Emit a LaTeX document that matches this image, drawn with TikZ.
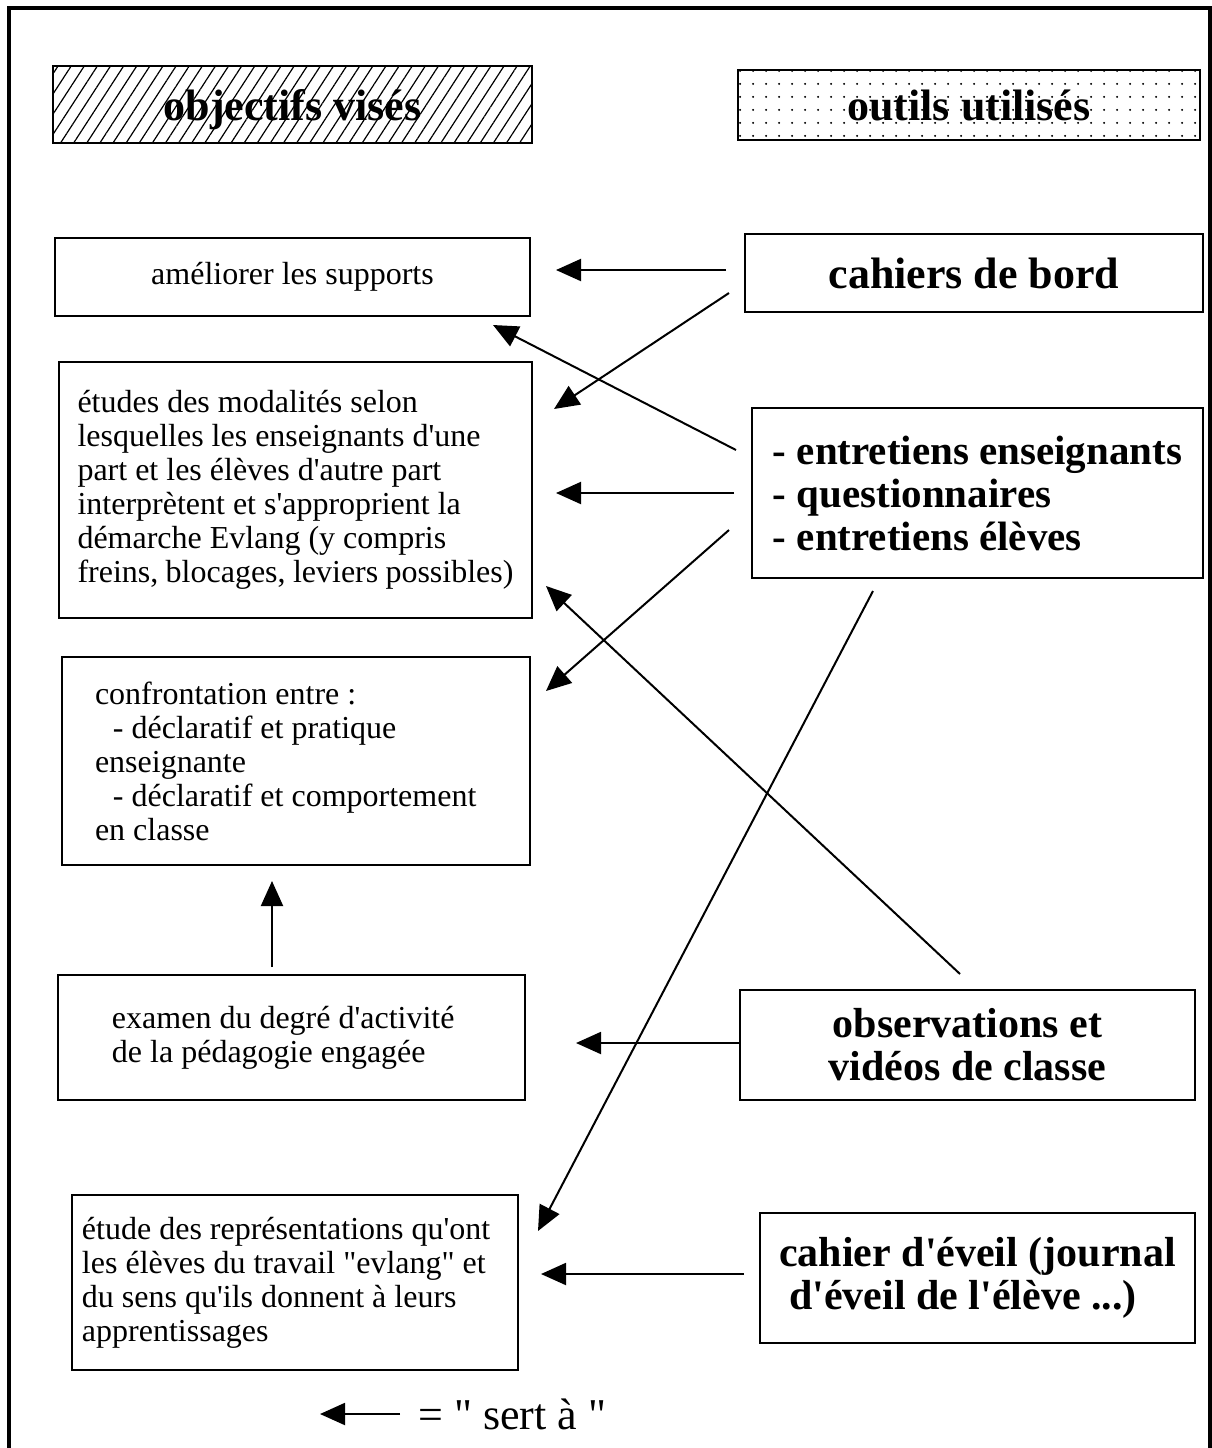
\documentclass[tikz,border=0pt]{standalone}
\usepackage{fontspec}
\setmainfont{Liberation Serif}[Ligatures=TeXOff]
\usepackage{tikz}
\usetikzlibrary{arrows.meta, patterns.meta}

\tikzset{
  cadre/.style={draw, line width=1pt, inner sep=0pt},
  objectif/.style={cadre, align=flush left, font=\fontsize{16}{17}\selectfont},
  outil/.style={cadre, align=left, font=\fontsize{21}{21.5}\selectfont\bfseries},
  titre/.style={cadre, font=\fontsize{22}{24}\selectfont\bfseries},
  sert/.style={-{Triangle[length=12.5pt,width=11pt]}, line width=1pt}
}

\begin{document}
\begin{tikzpicture}[x=0.5pt, y=-0.5pt]
  \useasboundingbox (0,0) rectangle (1212,1448);
  \draw[line width=2pt] (9,1448) -- (9,7.5) -- (1210,7.5) -- (1210,1448);

  % titres
  \node[titre, minimum width=239.5pt, minimum height=38.5pt, text depth=0pt,
        pattern={Lines[angle=57,distance=5.5pt,line width=0.6pt]}] (objectifs) at (292.5,104.5) {objectifs visés};
  \node[titre, minimum width=231pt, minimum height=35pt,
        pattern={Dots[distance=6.5pt,radius=0.6pt]}] (outils) at (969,105) {outils utilisés};

  % objectifs
  \node[objectif, minimum width=237.5pt, minimum height=39pt, align=center] (supports) at (292.5,277) {améliorer les supports};
  \node[objectif, minimum width=236.5pt, minimum height=128pt, text width=218pt] (modalites) at (295.5,490)
    {études des modalités selon\\lesquelles les enseignants d'une\\part et les élèves d'autre part\\interprètent et s'approprient la\\démarche Evlang (y compris\\freins, blocages, leviers possibles)};
  \node[objectif, minimum width=234pt, minimum height=104pt, text width=201pt, inner xsep=16.5pt] (confrontation) at (296,761)
    {confrontation entre :\\\hspace*{9pt}- déclaratif et pratique\\enseignante\\\hspace*{9pt}- déclaratif et comportement\\en classe};
  \node[objectif, minimum width=233.5pt, minimum height=62.5pt, text width=179.5pt, inner xsep=27pt] (activite) at (291.5,1037.5)
    {examen du degré d'activité\\de la pédagogie engagée};
  \node[objectif, minimum width=223pt, minimum height=87.5pt, text width=213pt, inner xsep=5pt] (representations) at (295,1282.5)
    {étude des représentations qu'ont\\les élèves du travail "evlang" et\\du sens qu'ils donnent à leurs\\apprentissages};

  % outils
  \node[outil, minimum width=229pt, minimum height=39pt, align=center, font=\fontsize{22}{24}\selectfont\bfseries] (cahiers) at (974,273) {cahiers de bord};
  \node[outil, minimum width=225.5pt, minimum height=85pt, font=\fontsize{20.5}{21.5}\selectfont\bfseries] (entretiens) at (977.5,493)
    {- entretiens enseignants\\- questionnaires\\- entretiens élèves};
  \node[outil, minimum width=227.5pt, minimum height=55pt, align=center] (observations) at (967.5,1045)
    {observations et\\vidéos de classe};
  \node[outil, minimum width=217.5pt, minimum height=65pt] (eveil) at (977.5,1278)
    {cahier d'éveil (journal\\\hspace*{5pt}d'éveil de l'élève ...)};

  % fleches
  \draw[sert] ([shift={(-18,-3)}]cahiers.west) -- ([shift={(25,-7)}]supports.east);
  \draw[sert] ([shift={(-15,20)}]cahiers.west) -- ([shift={(21,48)}]modalites.north east);
  \draw[sert] ([shift={(-15,-43)}]entretiens.west) -- ([shift={(-38,8)}]supports.south east);
  \draw[sert] ([shift={(-17,0)}]entretiens.west) -- ([shift={(23,3)}]modalites.east);
  \draw[sert] ([shift={(-22,37)}]entretiens.west) -- ([shift={(15,35)}]confrontation.north east);
  \draw[sert] ([shift={(-104.5,12)}]entretiens.south) -- ([shift={(19,37)}]representations.north east);
  \draw[sert] ([shift={(-7.5,-15)}]observations.north) -- ([shift={(13,-33)}]modalites.south east);
  \draw[sert] ([shift={(0,-2)}]observations.west) -- ([shift={(50,5.5)}]activite.east);
  \draw[sert] ([shift={(-19.5,-7)}]activite.north) -- ([shift={(-24,15)}]confrontation.south);
  \draw[sert] ([shift={(-15,-4)}]eveil.west) -- ([shift={(22,-8.5)}]representations.east);

  % legende
  \node[inner sep=0pt, anchor=west, font=\fontsize{22}{24}\selectfont] (legende) at (418,1414) {= " sert à "};
  \draw[sert] ([shift={(-18,0)}]legende.west) -- ([shift={(-98,0)}]legende.west);
\end{tikzpicture}
\end{document}
